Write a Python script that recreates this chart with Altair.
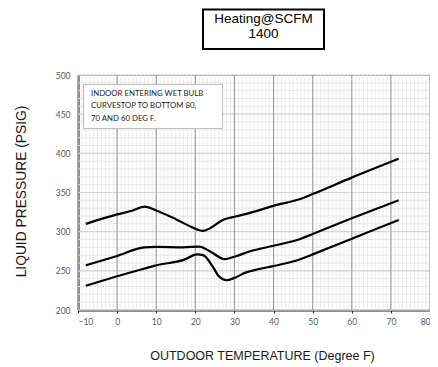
import altair as alt
import pandas as pd

# Curve data (outdoor temp, liquid pressure)
x80 = [-8, 0, 4, 7, 10, 15, 19, 22, 24, 27, 30, 34, 40, 47, 50, 60, 72]
y80 = [310, 322, 327, 332, 327, 316, 306, 301, 305, 315, 319, 324, 333, 342, 348, 369, 393]
x70 = [-8, 0, 7, 10, 17, 21, 24, 27.5, 30, 34, 40, 47, 50, 60, 72]
y70 = [257, 269, 280, 280.5, 280, 281, 274, 265, 268, 275, 282, 291, 297, 317, 340]
x60 = [-8, 0, 7, 10, 17, 20.5, 22, 24.5, 26, 28, 30, 33, 36, 40, 47, 50, 60, 72]
y60 = [231, 243, 253, 257, 264, 271, 270, 255, 243, 238, 241, 248, 252, 256, 265, 271, 291, 315]

x_ticks = [-10, 0, 10, 20, 30, 40, 50, 60, 70, 80]
y_ticks = [200, 250, 300, 350, 400, 450, 500]
note_lines = ["INDOOR ENTERING WET BULB", "CURVESTOP TO BOTTOM 80,", "70 AND 60 DEG F."]
title_lines = ["Heating@SCFM", "1400"]

W, H = 352, 235

df = pd.concat([
    pd.DataFrame({"t": x80, "p": y80, "s": "80"}),
    pd.DataFrame({"t": x70, "p": y70, "s": "70"}),
    pd.DataFrame({"t": x60, "p": y60, "s": "60"}),
])

xs = alt.Scale(domain=[-10, 80], nice=False)
ys = alt.Scale(domain=[200, 500], nice=False)

xaxis = alt.Axis(values=x_ticks, grid=False, title="OUTDOOR TEMPERATURE (Degree F)",
                 labelFont="Lato", labelFontSize=8.5, labelColor="#595959",
                 labelPadding=4, tickSize=3, tickColor="#333333", tickWidth=1,
                 domainColor="#1a1a1a", domainWidth=2,
                 titleFont="Liberation Sans", titleFontSize=12.5, titleFontWeight="normal",
                 titleColor="#1a1a1a", titleX=184, titleY=45, titleBaseline="middle")
yaxis = alt.Axis(values=y_ticks, grid=False, title="LIQUID PRESSURE (PSIG)",
                 labelFont="Lato", labelFontSize=8.5, labelColor="#595959",
                 labelPadding=8, ticks=False,
                 domainColor="#1a1a1a", domainWidth=2,
                 titleFont="Liberation Sans", titleFontSize=13.8, titleFontWeight="normal",
                 titleColor="#1a1a1a", titleX=-57, titleY=116, titleBaseline="middle",
                 titleAngle=-90)

minor_x = pd.DataFrame({"t": list(range(-10, 81, 1))})
minor_y = pd.DataFrame({"p": list(range(200, 501, 10))})
major_x = pd.DataFrame({"t": x_ticks})
major_y = pd.DataFrame({"p": y_ticks})

g_minor_x = alt.Chart(minor_x).mark_rule(color="#ececec", strokeWidth=1).encode(
    x=alt.X("t:Q", scale=xs, axis=xaxis))
g_minor_y = alt.Chart(minor_y).mark_rule(color="#e6e6e6", strokeWidth=1).encode(
    y=alt.Y("p:Q", scale=ys, axis=yaxis))
g_major_y = alt.Chart(major_y).mark_rule(color="#d6d6d6", strokeWidth=1.2).encode(
    y=alt.Y("p:Q", scale=ys, axis=yaxis))
g_major_x = alt.Chart(major_x).mark_rule(color="#a0a0a0", strokeWidth=1.2).encode(
    x=alt.X("t:Q", scale=xs, axis=xaxis))

lines = alt.Chart(df).mark_line(color="black", strokeWidth=2.2, interpolate="monotone").encode(
    x=alt.X("t:Q", scale=xs, axis=xaxis),
    y=alt.Y("p:Q", scale=ys, axis=yaxis),
    detail="s:N",
)

one = pd.DataFrame({"a": [0]})
note_box = alt.Chart(one).mark_rect(fill="white", stroke="#bfbfbf", strokeWidth=1).encode(
    x=alt.value(5.5), x2=alt.value(144.5), y=alt.value(9.5), y2=alt.value(53.5))

note_layers = []
for txt, yy in zip(note_lines, [18.5, 31, 43.5]):
    note_layers.append(
        alt.Chart(pd.DataFrame({"txt": [txt]})).mark_text(
            font="Lato", fontSize=7.8, color="#1a1a1a", align="left", baseline="middle"
        ).encode(x=alt.value(13), y=alt.value(yy), text="txt:N"))

title_box = alt.Chart(one).mark_rect(fill="white", stroke="black", strokeWidth=2).encode(
    x=alt.value(125), x2=alt.value(246), y=alt.value(-65.5), y2=alt.value(-26))
title_layers = []
for txt, yy in zip(title_lines, [-56.5, -41]):
    title_layers.append(
        alt.Chart(pd.DataFrame({"txt": [txt]})).mark_text(
            font="Liberation Sans", fontSize=13.5, color="black", align="center", baseline="middle"
        ).encode(x=alt.value(185.5), y=alt.value(yy), text="txt:N"))

chart = alt.layer(
    g_minor_x, g_minor_y, g_major_y, g_major_x, lines,
    note_box, *note_layers, title_box, *title_layers
).properties(
    width=W, height=H,
    autosize=alt.AutoSizeParams(type="none"),
    padding={"left": 70, "top": 67, "right": 0, "bottom": 56},
    background="white",
).configure_view(stroke="#404040", strokeWidth=1)

chart.save("out.html", embed_options={"renderer": "svg", "actions": False})
